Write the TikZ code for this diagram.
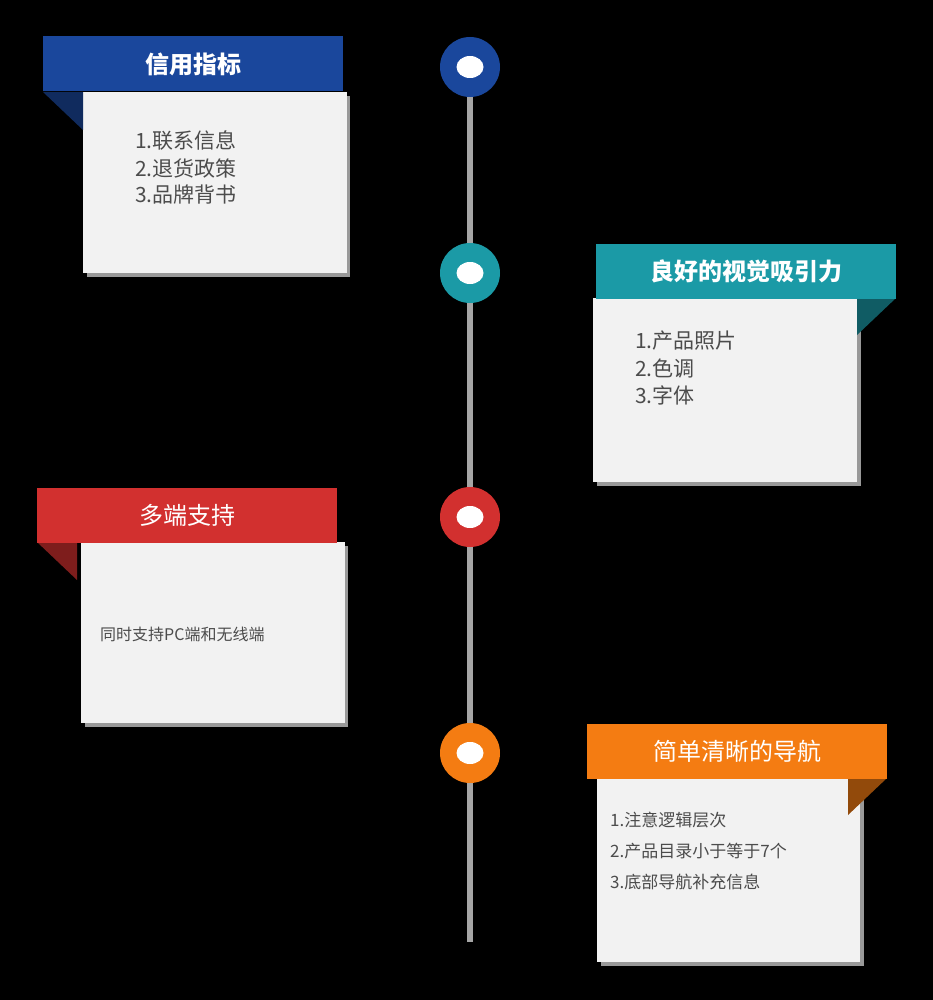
\documentclass[tikz,border=0pt]{standalone}
\usepackage{fontspec}
\newfontfamily\cjk{Noto Sans CJK SC}
\usetikzlibrary{positioning,shapes.geometric}
\definecolor{cblue}{HTML}{1A479C}
\definecolor{cteal}{HTML}{1B9AA6}
\definecolor{cred}{HTML}{D2302F}
\definecolor{corange}{HTML}{F47C12}
\definecolor{boxgray}{HTML}{F2F2F2}

\begin{document}
\begin{tikzpicture}[x=1pt,y=-1pt,
	header/.style	={rectangle,inner sep=0pt,minimum height=55pt,minimum width=300pt,text=white,font=\cjk\bfseries\fontsize{24}{28}\selectfont},
	body/.style	={rectangle,fill=boxgray,inner sep=0pt,anchor=north west},
	item/.style	={anchor=west,inner sep=0pt,text=black!70,font=\cjk\fontsize{21}{25}\selectfont},
	small/.style	={anchor=west,inner sep=0pt,text=black!70,font=\cjk\fontsize{16}{20}\selectfont},
	dot/.style	={circle,minimum size=60pt,inner sep=0pt},
	hole/.style	={ellipse,fill=white,minimum width=27pt,minimum height=22pt,inner sep=0pt},
	shadow/.style	={fill=black!40},
	]
	\fill[black] (0,0) rectangle (933,1000);
	\useasboundingbox (0,0) rectangle (933,1000);
	
	% timeline
	\coordinate (top) at (470,65);
	\coordinate (bottom) at (470,942);
	\draw [line width=6pt,gray!70] (top) -- (bottom);
	
	\foreach \y/\c/\n in {67/cblue/d1, 273/cteal/d2, 517/cred/d3, 753/corange/d4}
	{
		\node [dot,fill=\c] (\n) at (470,\y) {};
		\node [hole] at (\n) {};
	}
	
	% box 1
	\fill [shadow] (87,96) rectangle (350,277);
	\node [body,minimum width=264pt,minimum height=181pt] (B1) at (83,92) {};
	\fill [cblue!60!black] (43,92) -- (83,92) -- (83,130) -- cycle;
	\node [header,fill=cblue] (H1) at (193,64) {信用指标};
	\node [item] (t11) at (135,141) {1.联系信息};
	\node [item] (t12) [below=27pt of t11.west,anchor=west] {2.退货政策};
	\node [item] (t13) [below=27pt of t12.west,anchor=west] {3.品牌背书};
	
	% box 2
	\fill [shadow] (597,302) rectangle (861,486);
	\node [body,minimum width=264pt,minimum height=184pt] (B2) at (593,298) {};
	\fill [cteal!60!black] (857,298) -- (896,298) -- (857,335) -- cycle;
	\node [header,fill=cteal] (H2) at (746,271) {良好的视觉吸引力};
	\node [item] (t21) at (635,341) {1.产品照片};
	\node [item] (t22) [below=27pt of t21.west,anchor=west] {2.色调};
	\node [item] (t23) [below=27pt of t22.west,anchor=west] {3.字体};
	
	% box 3
	\fill [shadow] (85,546) rectangle (348,727);
	\node [body,minimum width=264pt,minimum height=181pt] (B3) at (81,542) {};
	\fill [cred!60!black] (37,542) -- (77,542) -- (77,580) -- cycle;
	\node [header,fill=cred] (H3) at (187,515) {\mdseries 多端支持};
	\node [small] (t31) at (100,634) {同时支持PC端和无线端};
	
	% box 4
	\fill [shadow] (601,782) rectangle (864,966);
	\node [body,minimum width=263pt,minimum height=184pt] (B4) at (597,778) {};
	\fill [corange!60!black] (848,778) -- (887,778) -- (848,815) -- cycle;
	\node [header,fill=corange] (H4) at (737,751) {\mdseries 简单清晰的导航};
	\node [small,font=\cjk\fontsize{17}{20}\selectfont] (t41) at (610,820) {1.注意逻辑层次};
	\node [small,font=\cjk\fontsize{17}{20}\selectfont] (t42) [below=31pt of t41.west,anchor=west] {2.产品目录小于等于7个};
	\node [small,font=\cjk\fontsize{17}{20}\selectfont] (t43) [below=31pt of t42.west,anchor=west] {3.底部导航补充信息};
\end{tikzpicture}
\end{document}
